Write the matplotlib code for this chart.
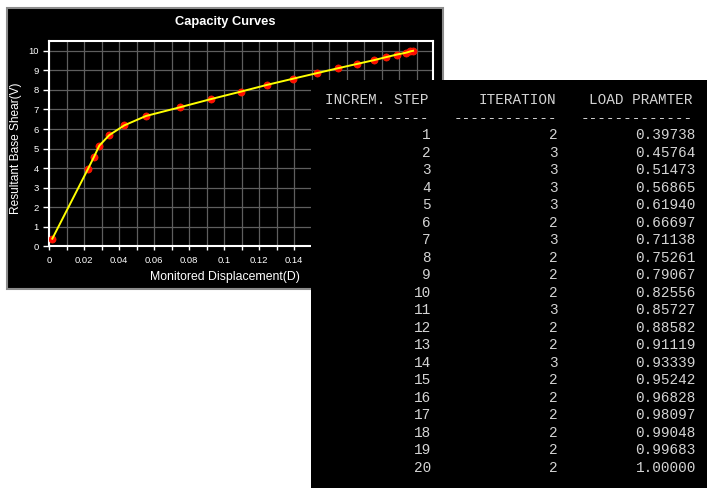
import matplotlib
matplotlib.use("Agg")
import matplotlib.pyplot as plt
from matplotlib.patches import Rectangle
from matplotlib.ticker import MultipleLocator, FuncFormatter

# ---- data ----
displacement = [0.0019, 0.0223, 0.0257, 0.0287, 0.0344, 0.0430, 0.0554, 0.0746,
                0.0924, 0.1094, 0.1246, 0.1392, 0.1531, 0.1651, 0.1760, 0.1855,
                0.1927, 0.1988, 0.2038, 0.2064, 0.2079]
base_shear = [0.40, 3.97, 4.58, 5.15, 5.69, 6.19, 6.67, 7.11, 7.53, 7.91, 8.26,
              8.57, 8.86, 9.11, 9.33, 9.52, 9.68, 9.81, 9.90, 9.97, 10.0]

steps = list(range(1, 21))
iterations = [2, 3, 3, 3, 3, 2, 3, 2, 2, 2, 3, 2, 2, 3, 2, 2, 2, 2, 2, 2]
load_params = ["0.39738", "0.45764", "0.51473", "0.56865", "0.61940", "0.66697",
               "0.71138", "0.75261", "0.79067", "0.82556", "0.85727", "0.88582",
               "0.91119", "0.93339", "0.95242", "0.96828", "0.98097", "0.99048",
               "0.99683", "1.00000"]
headers = ["INCREM. STEP", "ITERATION", "LOAD PRAMTER"]
dash_counts = [12, 12, 13]

W, H = 707, 490
fig = plt.figure(figsize=(W / 100, H / 100), dpi=100, facecolor="white")

def fx(px):
    return px / W

def fy(py):
    return (H - py) / H

# chart panel background
fig.patches.append(Rectangle((fx(7), fy(289)), fx(443) - fx(7), fy(8) - fy(289),
                             transform=fig.transFigure, facecolor="black",
                             edgecolor="#8c8c8c", lw=1.5, zorder=-1))

ax = fig.add_axes([fx(49), fy(246.5), fx(432.5) - fx(49), fy(41) - fy(246.5)])
ax.set_facecolor("black")
ax.set_xlim(0, 0.219)
ax.set_ylim(0, 10.5)
ax.xaxis.set_major_locator(MultipleLocator(0.02))
ax.xaxis.set_minor_locator(MultipleLocator(0.01))
ax.yaxis.set_major_locator(MultipleLocator(1))
# labels beyond 0.14 are hidden behind the table panel in the reference
ax.xaxis.set_major_formatter(FuncFormatter(
    lambda v, p: ("%g" % round(v, 4)) if v < 0.15 else ""))
ax.yaxis.set_major_formatter(FuncFormatter(
    lambda v, p: ("%g" % v) if v <= 10 else ""))
ax.grid(which="both", color="#5e5e5e", lw=0.9)
ax.set_axisbelow(True)
for s in ax.spines.values():
    s.set_color("white")
    s.set_linewidth(1.5)
ax.tick_params(axis="x", which="both", colors="white", length=3, width=1, pad=3.5)
ax.tick_params(axis="y", which="both", colors="white", length=4, width=1, pad=3.5)
for lab in ax.get_xticklabels() + ax.get_yticklabels():
    lab.set_fontfamily("Liberation Sans")
    lab.set_fontsize(6.8)

ax.plot(displacement, base_shear, linestyle="none", marker="o", markersize=5.2,
        markerfacecolor="#ff0a00", markeredgecolor="#ff2a00", markeredgewidth=0.4,
        zorder=3)
ax.plot(displacement, base_shear, color="#ffff00", lw=1.4, zorder=4)

fig.text(fx(225), fy(22), "Capacity Curves", color="white", fontsize=9.3,
         fontweight="bold", family="Liberation Sans", ha="center", va="center")
fig.text(fx(225), fy(277), "Monitored Displacement(D)", color="white", fontsize=8.8,
         family="Liberation Sans", ha="center", va="center")
fig.text(fx(16), fy(148), "Resultant Base Shear(V)", color="white", fontsize=8.6,
         family="Liberation Sans", ha="center", va="center", rotation=90)

# table panel
fig.patches.append(Rectangle((fx(311), fy(488)), fx(707) - fx(311), fy(80) - fy(488),
                             transform=fig.transFigure, facecolor="black",
                             edgecolor="none", zorder=5))

col_right = [431, 558, 696]
header_center = [377, 517, 641]
dash_center = [377, 505, 637]
tstyle = dict(color="#d4d4d4", fontsize=10.4, family="Liberation Mono",
              va="baseline", zorder=6)

def base(i):
    return fy(104.3 + 17.5 * i)

for c in range(3):
    fig.text(fx(header_center[c]), base(0), headers[c], ha="center", **tstyle)
    fig.text(fx(dash_center[c]), base(1), "-" * dash_counts[c], ha="center", **tstyle)

for r, (s, it, lp) in enumerate(zip(steps, iterations, load_params)):
    y = base(r + 2)
    fig.text(fx(col_right[0]), y, str(s), ha="right", **tstyle)
    fig.text(fx(col_right[1]), y, str(it), ha="right", **tstyle)
    fig.text(fx(col_right[2]), y, lp, ha="right", **tstyle)

fig.savefig("out.png", dpi=100, facecolor="white")
